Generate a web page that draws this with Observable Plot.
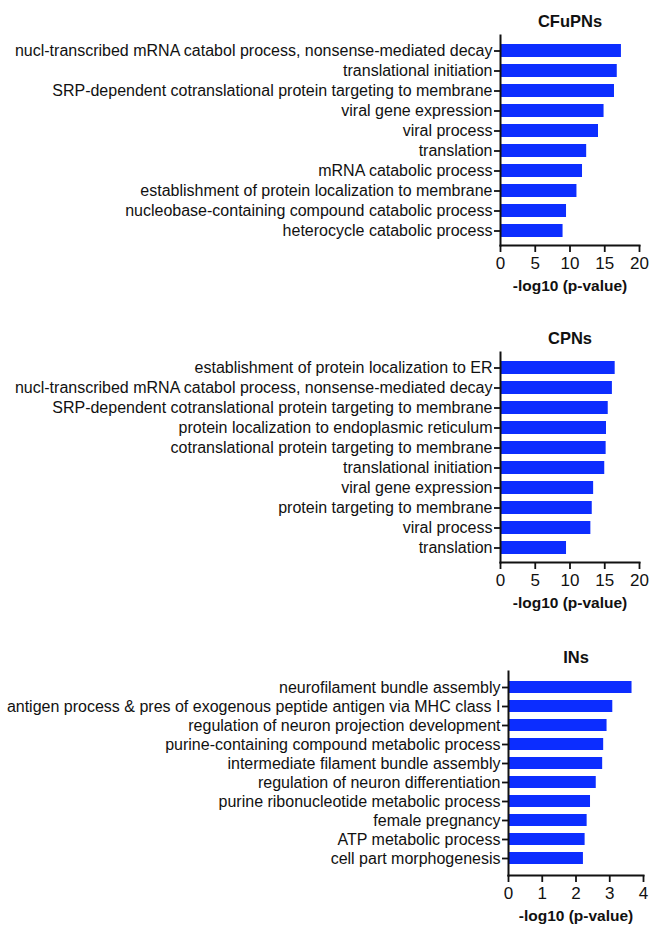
<!DOCTYPE html>
<html>
<head>
<meta charset="utf-8">
<script src="https://cdn.jsdelivr.net/npm/d3@7"></script>
<script src="https://cdn.jsdelivr.net/npm/@observablehq/plot@0.6"></script>
<style>
  body { margin: 0; background: #fff; }
  #chart { width: 665px; }
  #chart svg { display: block; }
</style>
</head>
<body>
<div id="chart"></div>
<script>
// GO enrichment terms and -log10(p-value) per neuron population
const cfupnTerms = [
  "nucl-transcribed mRNA catabol process, nonsense-mediated decay",
  "translational initiation",
  "SRP-dependent cotranslational protein targeting to membrane",
  "viral gene expression",
  "viral process",
  "translation",
  "mRNA catabolic process",
  "establishment of protein localization to membrane",
  "nucleobase-containing compound catabolic process",
  "heterocycle catabolic process"
];
const cfupnValues = [17.4, 16.8, 16.4, 14.9, 14.1, 12.4, 11.8, 11.0, 9.5, 9.0];

const cpnTerms = [
  "establishment of protein localization to ER",
  "nucl-transcribed mRNA catabol process, nonsense-mediated decay",
  "SRP-dependent cotranslational protein targeting to membrane",
  "protein localization to endoplasmic reticulum",
  "cotranslational protein targeting to membrane",
  "translational initiation",
  "viral gene expression",
  "protein targeting to membrane",
  "viral process",
  "translation"
];
const cpnValues = [16.5, 16.1, 15.5, 15.25, 15.2, 15.0, 13.4, 13.2, 13.0, 9.5];

const inTerms = [
  "neurofilament bundle assembly",
  "antigen process & pres of exogenous peptide antigen via MHC class I",
  "regulation of neuron projection development",
  "purine-containing compound metabolic process",
  "intermediate filament bundle assembly",
  "regulation of neuron differentiation",
  "purine ribonucleotide metabolic process",
  "female pregnancy",
  "ATP metabolic process",
  "cell part morphogenesis"
];
const inValues = [3.66, 3.09, 2.92, 2.82, 2.79, 2.60, 2.43, 2.33, 2.27, 2.22];

const panelTitles = ["CFuPNs", "CPNs", "INs"];
const xTicks20 = [0, 5, 10, 15, 20];
const xTicks4 = [0, 1, 2, 3, 4];
const xLabel = "-log10 (p-value)";

const barColor = "#0c2dff";
const font = "'Liberation Sans', Arial, Helvetica, sans-serif";

function panel({title, terms, values, xMax, ticks, height, marginTop, marginBottom, marginLeft, marginRight}) {
  const data = terms.map((term, i) => ({term, value: values[i]}));
  return Plot.plot({
    width: 665,
    height,
    marginTop,
    marginBottom,
    marginLeft,
    marginRight,
    style: {fontFamily: font, fontSize: "16px", color: "#111", background: "#fff"},
    x: {domain: [0, xMax], ticks},
    y: {domain: terms, padding: 0.35},
    marks: [
      Plot.barX(data, {x: "value", y: "term", fill: barColor}),
      Plot.axisY({label: null, tickSize: 6, tickPadding: 2, strokeWidth: 1.8, fontSize: 16}),
      Plot.axisX({ticks, tickFormat: d => String(d), label: null, tickSize: 7, tickPadding: 4, strokeWidth: 1.8, fontSize: 17}),
      Plot.frame({anchor: "left", strokeWidth: 2}),
      Plot.frame({anchor: "bottom", strokeWidth: 2}),
      Plot.text([title], {text: d => d, frameAnchor: "top", dy: -20, fontSize: 16.5, fontWeight: "bold"}),
      Plot.text([xLabel], {text: d => d, frameAnchor: "bottom", dy: 45, fontSize: 15.5, fontWeight: "bold"})
    ]
  });
}

const chart = document.getElementById("chart");
chart.append(panel({
  title: panelTitles[0], terms: cfupnTerms, values: cfupnValues, xMax: 20, ticks: xTicks20,
  height: 310, marginTop: 35, marginBottom: 65, marginLeft: 500, marginRight: 26
}));
chart.append(panel({
  title: panelTitles[1], terms: cpnTerms, values: cpnValues, xMax: 20, ticks: xTicks20,
  height: 315, marginTop: 42, marginBottom: 63, marginLeft: 500, marginRight: 26
}));
chart.append(panel({
  title: panelTitles[2], terms: inTerms, values: inValues, xMax: 4, ticks: xTicks4,
  height: 305, marginTop: 46, marginBottom: 55, marginLeft: 508, marginRight: 22
}));
</script>
</body>
</html>
